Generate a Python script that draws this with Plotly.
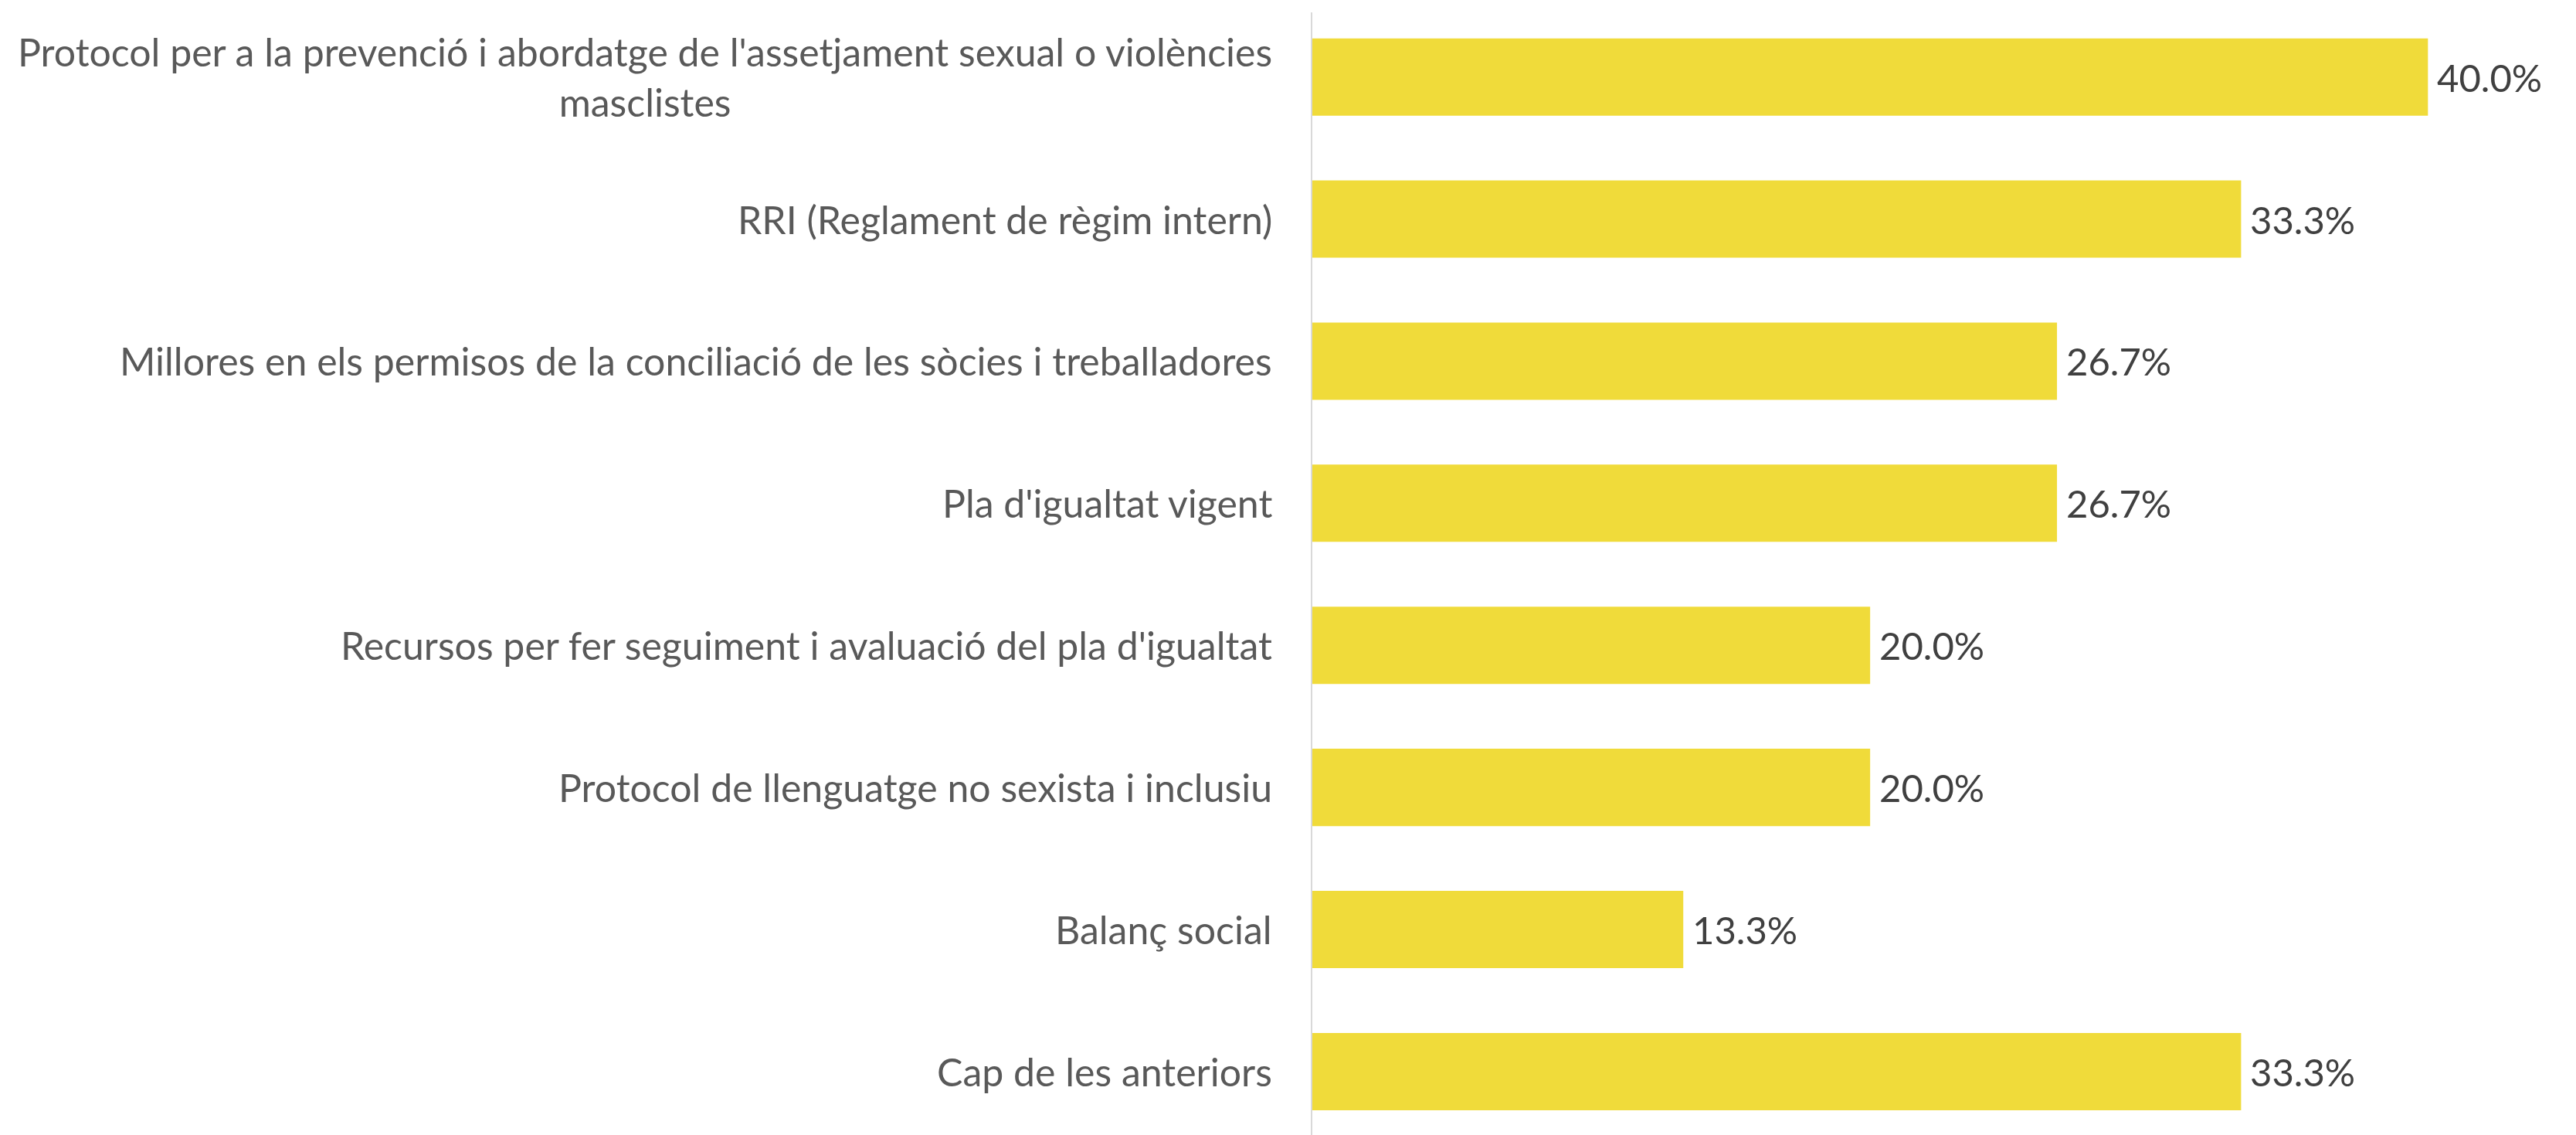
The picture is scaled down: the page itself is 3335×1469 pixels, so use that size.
import plotly.graph_objects as go

categories = [
    "Protocol per a la prevenció i abordatge de l'assetjament sexual o violències<br>masclistes",
    "RRI (Reglament de règim intern)",
    "Millores en els permisos de la conciliació de les sòcies i treballadores",
    "Pla d'igualtat vigent",
    "Recursos per fer seguiment i avaluació del pla d'igualtat",
    "Protocol de llenguatge no sexista i inclusiu",
    "Balanç social",
    "Cap de les anteriors",
]
values = [40.0, 33.3, 26.7, 26.7, 20.0, 20.0, 13.3, 33.3]

FONT = "Lato"
BAR_COLOR = "#F0DB3A"

fig = go.Figure()
fig.add_trace(go.Bar(
    y=categories,
    x=values,
    orientation="h",
    marker=dict(color=BAR_COLOR, line=dict(width=0)),
    hoverinfo="skip",
))

annotations = []
for c, v in zip(categories, values):
    annotations.append(dict(
        xref="paper", yref="y", x=0, y=c,
        text=c, showarrow=False, xanchor="right", yanchor="middle",
        align="center", xshift=-50,
        font=dict(family=FONT, size=50, color="#595959"),
    ))
    annotations.append(dict(
        xref="x", yref="y", x=v, y=c,
        text=f"{v:.1f}%", showarrow=False, xanchor="left", yanchor="middle",
        xshift=10,
        font=dict(family=FONT, size=49, color="#404040"),
    ))

fig.update_layout(
    width=3335, height=1469,
    margin=dict(l=1691, r=13, t=8, b=0),
    paper_bgcolor="white", plot_bgcolor="white",
    bargap=0.456,
    showlegend=False,
    annotations=annotations,
    xaxis=dict(range=[0, 45.17], showgrid=False, zeroline=False, showticklabels=False,
               showline=False, ticks=""),
    yaxis=dict(type="category", categoryorder="array", categoryarray=categories,
               range=[7.49, -0.455], showticklabels=False, showgrid=False,
               zeroline=False, showline=True, linecolor="#D9D9D9", linewidth=2,
               ticks=""),
)

fig.write_html("out.html")
